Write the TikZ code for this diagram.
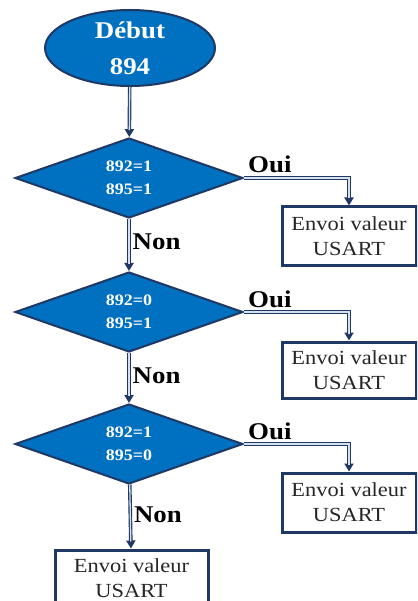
\documentclass[tikz,border=0pt]{standalone}
\usepackage{fontspec}
\setmainfont{Liberation Serif}[FakeStretch=1.12]
\usetikzlibrary{shapes.geometric,arrows.meta,calc}

\definecolor{fillblue}{RGB}{0,112,192}
\definecolor{navy}{RGB}{31,56,100}
\definecolor{linkcore}{RGB}{214,224,238}

\tikzset{
  startnode/.style={ellipse, draw=navy, line width=2pt, fill=fillblue,
    minimum width=170pt, minimum height=76pt, inner sep=0pt,
    text=white, align=center, font=\fontsize{24}{36}\selectfont\bfseries},
  testnode/.style={diamond, draw=navy, line width=2pt, fill=fillblue,
    minimum width=228pt, minimum height=80pt, inner sep=0pt,
    text=white, align=center, font=\fontsize{16}{23}\selectfont\bfseries},
  actionbox/.style={rectangle, draw=navy, line width=3pt, fill=white,
    minimum width=134pt, minimum height=58pt, inner sep=0pt,
    text=black!85, align=center, font=\fontsize{20}{25}\selectfont},
  % hollow connector: dark casing with arrow tip, light core on top
  link/.style={draw=linkcore, line width=1.3pt, shorten >=7pt,
    preaction={draw=navy, line width=3.6pt, shorten >=0pt,
      -{Triangle[length=8pt,width=9pt]}}},
  answer/.style={font=\fontsize{24}{28}\selectfont\bfseries, inner sep=0pt, text=black},
}

\begin{document}
\begin{tikzpicture}[x=1pt, y=-1pt]
\useasboundingbox (0,0) rectangle (417,601);
\clip (0,0) rectangle (417,601);

% start and the three tests
\node[startnode] (start) at (130,48) {Début\\894};
\node[testnode] (t1) at (129,178) {892=1\\895=1};
\node[testnode] (t2) at (129,312) {892=0\\895=1};
\node[testnode] (t3) at (129,444) {892=1\\895=0};

% USART sends
\node[actionbox] (s1) at (349,236) {Envoi valeur\\USART};
\node[actionbox, minimum height=56pt] (s2) at (349,370) {Envoi valeur\\USART};
\node[actionbox, minimum height=59pt] (s3) at (349,502.5) {Envoi valeur\\USART};
\node[actionbox, minimum width=153pt, minimum height=56pt] (s4) at (131.5,578) {Envoi valeur\\USART};

% main flow
\draw[link] (start) -- (t1);
\draw[link] (t1) -- node[answer, anchor=base west, xshift=3pt, yshift=-5pt] {Non} (t2);
\draw[link] (t2) -- node[answer, anchor=base west, xshift=3pt, yshift=-5pt] {Non} (t3);
\draw[link] (t3) -- node[answer, anchor=base west, xshift=3pt, yshift=-6pt] {Non} (s4);

% yes branches
\draw[link] (t1.east) -| (s1.north);
\draw[link] (t2.east) -| (s2.north);
\draw[link] (t3.east) -| (s3.north);
\node[answer, anchor=base west] (y1) at ([xshift=4pt, yshift=5pt]t1.east) {Oui};
\node[answer, anchor=base west] (y2) at ([xshift=4pt, yshift=5pt]t2.east) {Oui};
\node[answer, anchor=base west] (y3) at ([xshift=4pt, yshift=5pt]t3.east) {Oui};
\end{tikzpicture}
\end{document}
